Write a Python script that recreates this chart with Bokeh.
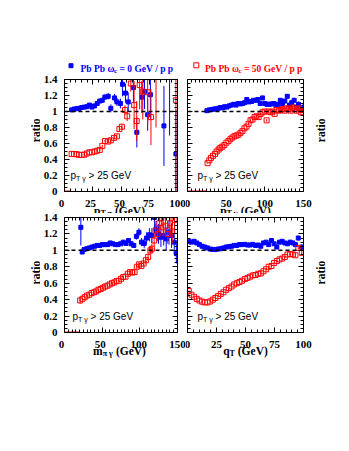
from bokeh.plotting import figure
from bokeh.models import Range1d, FixedTicker, LinearAxis, Label, Span, CustomJSTickFormatter
from bokeh.core.properties import value
from bokeh.layouts import column, row
from bokeh.embed import file_html
from bokeh.resources import INLINE

BLUE = "#0000ff"
RED = "#ff0000"
SERIF = "Liberation Serif"
SANS = "Liberation Sans"

# ---------------- data ----------------
# panel 1: ratio vs pT_pi
tl_b_x = [6.3, 8.5, 10.8, 13.0, 15.3, 17.5, 19.8, 22.0, 24.3, 26.6, 28.9, 31.1, 33.4, 35.7, 38.7,
          41.0, 44.3, 46.4, 49.5, 51.3, 54.0, 56.4, 61.0, 64.0, 68.5, 70.8, 73.6, 76.0, 88.0, 93.0, 98.6]
tl_b_y = [1.02, 1.03, 1.035, 1.04, 1.05, 1.055, 1.06, 1.08, 1.055, 1.07, 1.10, 1.13, 1.14, 1.18, 1.19,
          1.04, 1.17, 1.12, 1.10, 1.34, 1.23, 1.12, 1.30, 0.74, 1.18, 1.25, 0.96, 1.21, 0.82, 1.60, 0.47]
tl_b_e = [0.01, 0.01, 0.01, 0.012, 0.012, 0.015, 0.015, 0.02, 0.02, 0.02, 0.025, 0.025, 0.03, 0.035, 0.04,
          0.05, 0.05, 0.05, 0.06, 0.15, 0.12, 0.12, 0.18, 0.19, 0.2, 0.22, 0.2, 0.3, 0.5, 0.9, 0.55]
tl_r_x = [6.3, 8.4, 10.6, 12.9, 15.2, 17.5, 19.8, 22.1, 24.4, 26.6, 28.9, 31.2, 33.5, 35.8, 38.7,
          41.0, 43.8, 46.4, 48.6, 50.8, 53.5, 55.5, 58.7, 61.6, 63.9, 66.5, 69.3, 73.6, 76.5, 81.0, 98.6]
tl_r_y = [0.47, 0.467, 0.467, 0.458, 0.458, 0.46, 0.475, 0.49, 0.49, 0.50, 0.51, 0.52, 0.57, 0.63, 0.625,
          0.64, 0.67, 0.69, 0.78, 0.81, 1.02, 0.94, 1.35, 1.08, 0.88, 1.33, 1.25, 1.24, 0.93, 1.50, 1.14]
tl_r_e = [0.005, 0.005, 0.005, 0.005, 0.005, 0.006, 0.006, 0.007, 0.008, 0.008, 0.01, 0.01, 0.012, 0.015, 0.015,
          0.018, 0.02, 0.025, 0.03, 0.035, 0.06, 0.06, 0.1, 0.3, 0.25, 0.3, 0.35, 0.4, 0.35, 0.7, 1.2]
tl_r_zero_x = [0.0, 5.0]

# panel 2: ratio vs pT_gamma
tr_b_x = [25.1, 28.2, 31.2, 33.8, 36.8, 39.9, 42.5, 45.3, 48.0, 51.0, 53.7, 56.8, 59.8, 62.8, 65.5,
          68.5, 71.0, 74.0, 76.7, 79.8, 82.8, 85.4, 88.4, 91.0, 94.0, 97.0, 100.0, 102.7, 105.8, 108.7,
          111.7, 114.3, 117.3, 120.0, 122.8, 125.8, 129.0, 131.8, 134.8, 137.9, 140.5, 143.6, 146.5, 149.0]
tr_b_y = [1.01, 1.02, 1.025, 1.03, 1.033, 1.04, 1.05, 1.045, 1.06, 1.055, 1.07, 1.08, 1.09, 1.08, 1.10,
          1.095, 1.10, 1.11, 1.15, 1.12, 1.125, 1.14, 1.14, 1.15, 1.10, 1.17, 1.10, 1.09, 1.09, 1.095,
          1.10, 1.075, 1.09, 1.14, 1.10, 1.13, 1.19, 1.08, 1.11, 1.14, 1.055, 1.09, 1.02, 1.05]
tr_b_e = [0.008, 0.008, 0.008, 0.008, 0.008, 0.009, 0.009, 0.009, 0.01, 0.01, 0.01, 0.01, 0.01, 0.011, 0.011,
          0.012, 0.012, 0.013, 0.013, 0.014, 0.014, 0.015, 0.015, 0.016, 0.017, 0.018, 0.019, 0.02, 0.02, 0.021,
          0.022, 0.023, 0.024, 0.025, 0.026, 0.027, 0.028, 0.03, 0.031, 0.032, 0.034, 0.035, 0.037, 0.04]
tr_r_x = [26.0, 28.2, 30.3, 33.0, 35.5, 37.7, 40.3, 42.5, 45.0, 47.7, 50.3, 52.9, 55.5, 58.0, 60.7,
          63.3, 65.9, 68.5, 71.0, 73.7, 76.3, 78.9, 81.5, 84.0, 86.7, 89.3, 91.9, 94.5, 97.0, 99.7,
          102.3, 105.0, 107.5, 110.0, 112.7, 115.3, 118.0, 120.5, 123.0, 125.7, 128.3, 130.9, 133.5, 136.0,
          138.7, 141.3, 143.9, 146.5, 149.0]
tr_r_y = [0.354, 0.39, 0.42, 0.446, 0.47, 0.50, 0.525, 0.546, 0.56, 0.58, 0.61, 0.63, 0.654, 0.675, 0.69,
          0.70, 0.71, 0.733, 0.754, 0.79, 0.81, 0.846, 0.89, 0.90, 0.93, 0.94, 0.93, 0.97, 0.99, 1.00,
          0.89, 1.00, 0.99, 1.00, 0.97, 1.02, 1.01, 1.02, 1.03, 1.01, 1.04, 1.03, 1.01, 1.05,
          1.03, 1.01, 1.04, 0.99, 1.02]
tr_r_e = [0.005, 0.005, 0.005, 0.005, 0.005, 0.005, 0.005, 0.006, 0.006, 0.006, 0.006, 0.007, 0.007, 0.007, 0.007,
          0.008, 0.008, 0.008, 0.009, 0.009, 0.01, 0.01, 0.01, 0.011, 0.011, 0.012, 0.012, 0.013, 0.013, 0.014,
          0.015, 0.015, 0.016, 0.017, 0.018, 0.019, 0.02, 0.021, 0.022, 0.023, 0.024, 0.025, 0.026, 0.027,
          0.028, 0.03, 0.031, 0.033, 0.035]
tr_r_zero_x = [0.0, 25.0]

# panel 3: ratio vs m_pi_gamma
bl_b_x = [21.7, 23.5, 26.0, 29.5, 33.0, 36.4, 39.9, 43.3, 46.8, 50.3, 53.7, 57.2, 60.7, 64.0, 67.6,
          71.0, 74.6, 78.0, 81.5, 85.0, 88.4, 92.0, 95.4, 98.8, 102.3, 105.8, 109.0, 112.7, 116.0, 119.6,
          121.5, 124.8, 128.0, 131.7, 135.0, 138.7, 142.0, 145.7, 148.5]
bl_b_y = [1.28, 0.98, 1.01, 1.02, 1.03, 1.04, 1.05, 1.06, 1.06, 1.07, 1.07, 1.07, 1.09, 1.08, 1.07,
          1.07, 1.08, 1.10, 1.085, 1.12, 1.08, 1.06, 1.17, 1.22, 1.10, 1.085, 1.15, 1.19, 1.18, 1.40,
          1.26, 1.20, 1.16, 1.18, 1.14, 1.22, 1.18, 1.10, 0.96]
bl_b_e = [0.22, 0.01, 0.01, 0.01, 0.01, 0.01, 0.01, 0.01, 0.01, 0.012, 0.012, 0.015, 0.015, 0.015, 0.02,
          0.02, 0.02, 0.025, 0.025, 0.03, 0.03, 0.03, 0.04, 0.05, 0.05, 0.06, 0.07, 0.08, 0.09, 0.2,
          0.1, 0.12, 0.12, 0.12, 0.14, 0.15, 0.15, 0.15, 0.12]
bl_r_x = [20.8, 23.8, 26.8, 29.8, 33.0, 36.0, 39.0, 42.0, 45.0, 48.0, 51.0, 54.0, 57.0, 60.0, 63.0,
          66.0, 69.0, 72.0, 75.0, 78.0, 81.0, 84.0, 87.0, 90.0, 93.0, 96.0, 99.0, 102.0, 105.0, 108.0,
          111.0, 114.0, 116.0, 119.0, 121.0, 123.5, 126.0, 128.5, 131.0, 134.0, 137.0, 140.0, 143.0, 146.0]
bl_r_y = [0.39, 0.41, 0.43, 0.45, 0.46, 0.48, 0.49, 0.50, 0.52, 0.53, 0.545, 0.56, 0.57, 0.585, 0.60,
          0.61, 0.626, 0.63, 0.654, 0.675, 0.68, 0.715, 0.735, 0.73, 0.735, 0.80, 0.83, 0.81, 0.84, 0.88,
          0.92, 1.00, 1.02, 1.12, 1.24, 1.20, 1.33, 1.39, 1.28, 1.30, 1.20, 1.33, 1.23, 1.37]
bl_r_e = [0.04, 0.008, 0.008, 0.008, 0.008, 0.008, 0.008, 0.008, 0.009, 0.009, 0.009, 0.01, 0.01, 0.01, 0.011,
          0.011, 0.012, 0.012, 0.013, 0.014, 0.015, 0.016, 0.018, 0.02, 0.022, 0.025, 0.028, 0.03, 0.035, 0.04,
          0.045, 0.05, 0.06, 0.07, 0.08, 0.09, 0.1, 0.1, 0.11, 0.12, 0.12, 0.13, 0.14, 0.15]
bl_r_zero_x = [0.0, 20.0]

# panel 4: ratio vs q_T
br_x = [1.1, 3.4, 5.7, 8.0, 10.3, 12.6, 15.0, 17.2, 19.5, 21.8, 24.0, 26.4, 28.7, 31.0, 33.3,
        35.6, 38.0, 40.2, 42.5, 44.8, 47.0, 49.4, 51.7, 54.0, 56.3, 58.6, 61.0, 63.2, 65.5, 67.8,
        70.0, 72.4, 74.7, 77.0, 79.3, 81.6, 83.9, 86.2, 88.5, 90.8, 93.0, 95.5, 98.5]
br_b_y = [1.11, 1.10, 1.11, 1.09, 1.07, 1.05, 1.04, 1.03, 1.016, 1.012, 1.01, 1.016, 1.02, 1.03, 1.04,
          1.045, 1.05, 1.06, 1.06, 1.07, 1.07, 1.073, 1.065, 1.065, 1.073, 1.06, 1.065, 1.05, 1.09, 1.10,
          1.07, 1.12, 1.08, 1.04, 1.10, 1.11, 1.09, 1.08, 1.10, 1.09, 1.07, 1.15, 1.04]
br_b_e = [0.01, 0.008, 0.007, 0.007, 0.006, 0.006, 0.006, 0.006, 0.006, 0.006, 0.006, 0.006, 0.006, 0.006, 0.006,
          0.007, 0.007, 0.007, 0.007, 0.008, 0.008, 0.008, 0.008, 0.009, 0.009, 0.01, 0.01, 0.011, 0.012, 0.013,
          0.014, 0.015, 0.016, 0.017, 0.018, 0.019, 0.02, 0.021, 0.022, 0.024, 0.026, 0.03, 0.035]
br_r_y = [0.504, 0.46, 0.435, 0.41, 0.39, 0.375, 0.366, 0.366, 0.378, 0.40, 0.42, 0.443, 0.47, 0.49, 0.52,
          0.54, 0.56, 0.585, 0.60, 0.614, 0.63, 0.65, 0.665, 0.68, 0.695, 0.70, 0.715, 0.72, 0.745, 0.77,
          0.80, 0.81, 0.846, 0.87, 0.89, 0.90, 0.92, 0.95, 0.955, 0.95, 0.94, 1.03, 0.97]
br_r_e = [0.006, 0.005, 0.005, 0.004, 0.004, 0.004, 0.004, 0.004, 0.004, 0.004, 0.004, 0.004, 0.004, 0.004, 0.005,
          0.005, 0.005, 0.005, 0.005, 0.006, 0.006, 0.006, 0.006, 0.007, 0.007, 0.007, 0.008, 0.008, 0.009, 0.009,
          0.01, 0.01, 0.011, 0.012, 0.013, 0.014, 0.015, 0.016, 0.017, 0.018, 0.02, 0.022, 0.025]

y_ticks = [0, 0.2, 0.4, 0.6, 0.8, 1.0, 1.2, 1.4]
y_minor = [0.05, 0.1, 0.15, 0.25, 0.3, 0.35, 0.45, 0.5, 0.55, 0.65, 0.7, 0.75, 0.85, 0.9, 0.95,
           1.05, 1.1, 1.15, 1.25, 1.3, 1.35]
x100_ticks = [0, 25, 50, 75, 100]
x100_labels = ["0", "25", "50", "75", "100"]
x150_ticks = [0, 50, 100, 150]
x150_labels = ["0", "50", "100", "150"]

legend_blue = [("Pb Pb \u03c9", 9.5, 0), ("c", 7, -2), (" = 0 GeV / p p", 9.5, 0)]
legend_red = [("Pb Pb \u03c9", 9.5, 0), ("c", 7, -2), (" = 50 GeV / p p", 9.5, 0)]
cut_text = [("p", 10, 0), ("T \u03b3", 7, -3), (" > 25 GeV", 10, 0)]
title_tl = [("p", 11.5, 0), ("T \u03c0", 8, -2), (" (GeV)", 11.5, 0)]
title_tr = [("p", 11.5, 0), ("T \u03b3", 8, -2), (" (GeV)", 11.5, 0)]
title_bl = [("m", 11.5, 0), ("\u03c0 \u03b3", 8, -2), (" (GeV)", 11.5, 0)]
title_br = [("q", 11.5, 0), ("T", 8, -2), (" (GeV)", 11.5, 0)]

# ---------------- text helpers ----------------
W_SERIF_B = {' ': .25, '(': .333, ')': .333, '/': .278, '=': .57, 'G': .778, 'P': .611, 'T': .667,
             'V': .722, 'b': .556, 'c': .444, 'e': .444, 'm': .833, 'p': .556, 'q': .556,
             '\u03c0': .55, '\u03b3': .5, '\u03c9': .7}
W_SANS = {' ': .278, '>': .584, 'G': .778, 'e': .556, 'V': .667, 'T': .611, 'p': .556, '\u03b3': .5}


def twidth(s, size, table):
    return sum(table.get(c, 0.5) for c in s) * size


def rich(p, x, y, parts, font, style, color, table, x_off=0.0, y_off=0.0, center=False):
    total = sum(twidth(t, s, table) for t, s, _ in parts)
    cur = x_off - (total / 2.0 if center else 0.0)
    for t, s, dy in parts:
        lead = len(t) - len(t.lstrip(" "))
        cur += twidth(" " * lead, s, table)       # leading blanks are not kept by SVG text
        body = t.lstrip(" ")
        p.add_layout(Label(x=x, y=y, x_offset=cur, y_offset=y_off + dy, text=body,
                           text_font=font, text_font_style=style, text_font_size=f"{s}px",
                           text_color=color, text_align="left", text_baseline="alphabetic"))
        cur += twidth(body, s, table)


EMPTY = CustomJSTickFormatter(code="return '';")


def mk_axis(ticks, minor, labels, standoff=3):
    ax = LinearAxis(ticker=FixedTicker(ticks=ticks, minor_ticks=minor))
    ax.major_tick_in = 5
    ax.major_tick_out = 0
    ax.minor_tick_in = 3
    ax.minor_tick_out = 0
    ax.axis_line_color = "black"
    ax.major_tick_line_color = "black"
    ax.minor_tick_line_color = "black"
    ax.major_label_text_font = SERIF
    ax.major_label_text_font_style = "bold"
    ax.major_label_text_color = "black"
    if labels:
        ax.major_label_text_font_size = "11px"
        ax.major_label_standoff = standoff
    else:
        ax.formatter = EMPTY
        ax.major_label_text_font_size = "0px"
        ax.major_label_standoff = 0
    return ax


# page geometry (pixels)
FR_L = (61, 177)      # left-column frames
FR_R = (187, 303)     # right-column frames


def panel(xmax, xticks, xminor, frame_h, top, bottom, side):
    if side == "left":
        ml, mr, w = 21, 7, 144
    else:
        ml, mr, w = 3, 2, 121
    p = figure(width=w, height=top + frame_h + bottom, x_range=Range1d(0, xmax), y_range=Range1d(0, 1.4),
               title=None, output_backend="svg", toolbar_location=None,
               x_axis_location=None, y_axis_location=None,
               min_border_left=ml, min_border_right=mr, min_border_top=top, min_border_bottom=bottom,
               outline_line_color=None, background_fill_color="white", border_fill_color="white")
    p.grid.visible = False
    p.add_layout(mk_axis(xticks, xminor, False), "below")
    p.add_layout(mk_axis(xticks, xminor, False), "above")
    yl = mk_axis(y_ticks, y_minor, side == "left", 7)
    if side == "left":
        yl.formatter = CustomJSTickFormatter(code="return (Math.round(tick*10)/10).toString();")
    p.add_layout(yl, "left")
    p.add_layout(mk_axis(y_ticks, y_minor, False), "right")
    p.add_layout(Span(location=1.0, dimension="width", line_color="black", line_width=1.5, line_dash="4 3"))
    return p


def bare(width, height, xr, yr):
    f = figure(width=width, height=height, x_range=xr, y_range=yr, title=None,
               output_backend="svg", toolbar_location=None, x_axis_location=None, y_axis_location=None,
               min_border=0, outline_line_color=None)
    f.grid.visible = False
    return f


def page_fig(x0, x1, y0, y1):
    # a plain canvas whose data coordinates are page pixels (y downwards)
    return bare(x1 - x0, y1 - y0, Range1d(x0, x1), Range1d(y1, y0))


def strip(x0, x1, frame, xmax, y0, y1):
    # canvas below a panel, sharing the panel's x scale, y in page pixels
    k = (frame[1] - frame[0]) / xmax
    return bare(x1 - x0, y1 - y0, Range1d((x0 - frame[0]) / k, xmax + (x1 - frame[1]) / k), Range1d(y1, y0))


def draw(p, x, y, e, color, hollow):
    lo = [a - b for a, b in zip(y, e)]
    hi = [a + b for a, b in zip(y, e)]
    p.segment(x0=x, y0=lo, x1=x, y1=hi, line_color=color, line_width=1)
    if hollow:
        p.scatter(x=x, y=y, marker="square", size=5, fill_color=None, line_color=color, line_width=1)
    else:
        p.scatter(x=x, y=y, marker="square", size=4, fill_color=color, line_color=color)


minor100 = [v for v in range(0, 101, 5) if v % 25]
minor150 = [v for v in range(0, 151, 5) if v % 50]

tl = panel(100, x100_ticks, minor100, 112, 5, 4, "left")    # row 74..195, frame 79..191
tr = panel(150, x150_ticks, minor150, 112, 5, 4, "right")
bl = panel(150, x150_ticks, minor150, 115, 4, 4, "left")    # row 213..336, frame 217..332
br = panel(100, x100_ticks, minor100, 115, 4, 4, "right")

draw(tl, tl_b_x, tl_b_y, tl_b_e, BLUE, False)
draw(tl, tl_r_x, tl_r_y, tl_r_e, RED, True)
tl.line(x=tl_r_zero_x, y=[0, 0], line_color=RED, line_width=2)
draw(tr, tr_b_x, tr_b_y, tr_b_e, BLUE, False)
draw(tr, tr_r_x, tr_r_y, tr_r_e, RED, True)
tr.line(x=tr_r_zero_x, y=[0, 0], line_color=RED, line_width=2)
draw(bl, bl_b_x, bl_b_y, bl_b_e, BLUE, False)
draw(bl, bl_r_x, bl_r_y, bl_r_e, RED, True)
bl.line(x=bl_r_zero_x, y=[0, 0], line_color=RED, line_width=2)
draw(br, br_x, br_b_y, br_b_e, BLUE, False)
draw(br, br_x, br_r_y, br_r_e, RED, True)

for fig, xo in [(tl, 6), (tr, 10), (bl, 8), (br, 10)]:
    rich(fig, 0, 0.2, cut_text, SANS, "normal", "black", W_SANS, x_off=xo)

# header legend
hdr = page_fig(0, 335, 0, 74)
hdr.scatter(x=[70.5], y=[65.2], marker="square", size=4, fill_color=BLUE, line_color=BLUE)
hdr.scatter(x=[195.8], y=[64.8], marker="square", size=5, fill_color=None, line_color=RED, line_width=1)
rich(hdr, 80, 68, legend_blue, SERIF, "bold", BLUE, W_SERIF_B)
rich(hdr, 204.5, 68, legend_red, SERIF, "bold", RED, W_SERIF_B)


# y-axis titles
def ratio_label(f, x, y):
    f.add_layout(Label(x=x, y=y, text="ratio", angle=90, angle_units="deg", text_font=SERIF,
                       text_font_style="bold", text_font_size="11.5px", text_color="black",
                       text_align="center", text_baseline="alphabetic"))


l1 = page_fig(0, 40, 74, 195)
r1 = page_fig(305, 335, 74, 195)
l2 = page_fig(0, 40, 213, 336)
r2 = page_fig(305, 335, 213, 336)
ratio_label(l1, 35, 129)
ratio_label(r1, 320, 129)
ratio_label(l2, 35, 272)
ratio_label(r2, 320, 272)

# x tick labels and x-axis titles
s_tl = strip(0, 185, FR_L, 100, 195, 213)
s_tr = strip(185, 335, FR_R, 150, 195, 213)
s_bl = strip(0, 185, FR_L, 150, 336, 362)
s_br = strip(185, 335, FR_R, 100, 336, 362)


def tick_labels(f, ticks, labels, base):
    f.text(x=ticks, y=[base] * len(ticks), text=labels, text_align="center", text_baseline="alphabetic",
           text_font=value(SERIF), text_font_style="bold", text_font_size="11px", text_color="black")


tick_labels(s_tl, x100_ticks, x100_labels, 202.5)
tick_labels(s_tr, x150_ticks, x150_labels, 202.5)
tick_labels(s_bl, x150_ticks, x150_labels, 343.5)
tick_labels(s_br, x100_ticks, x100_labels, 343.5)
rich(s_tl, 50, 210.5, title_tl, SERIF, "bold", "black", W_SERIF_B, center=True)
rich(s_tr, 75, 210.5, title_tr, SERIF, "bold", "black", W_SERIF_B, center=True)
rich(s_bl, 75, 350.5, title_bl, SERIF, "bold", "black", W_SERIF_B, center=True)
rich(s_br, 50, 350.5, title_br, SERIF, "bold", "black", W_SERIF_B, center=True)

layout = column(hdr, row(l1, tl, tr, r1), row(s_tl, s_tr), row(l2, bl, br, r2), row(s_bl, s_br))
open("out.html", "w").write(file_html(layout, INLINE))
